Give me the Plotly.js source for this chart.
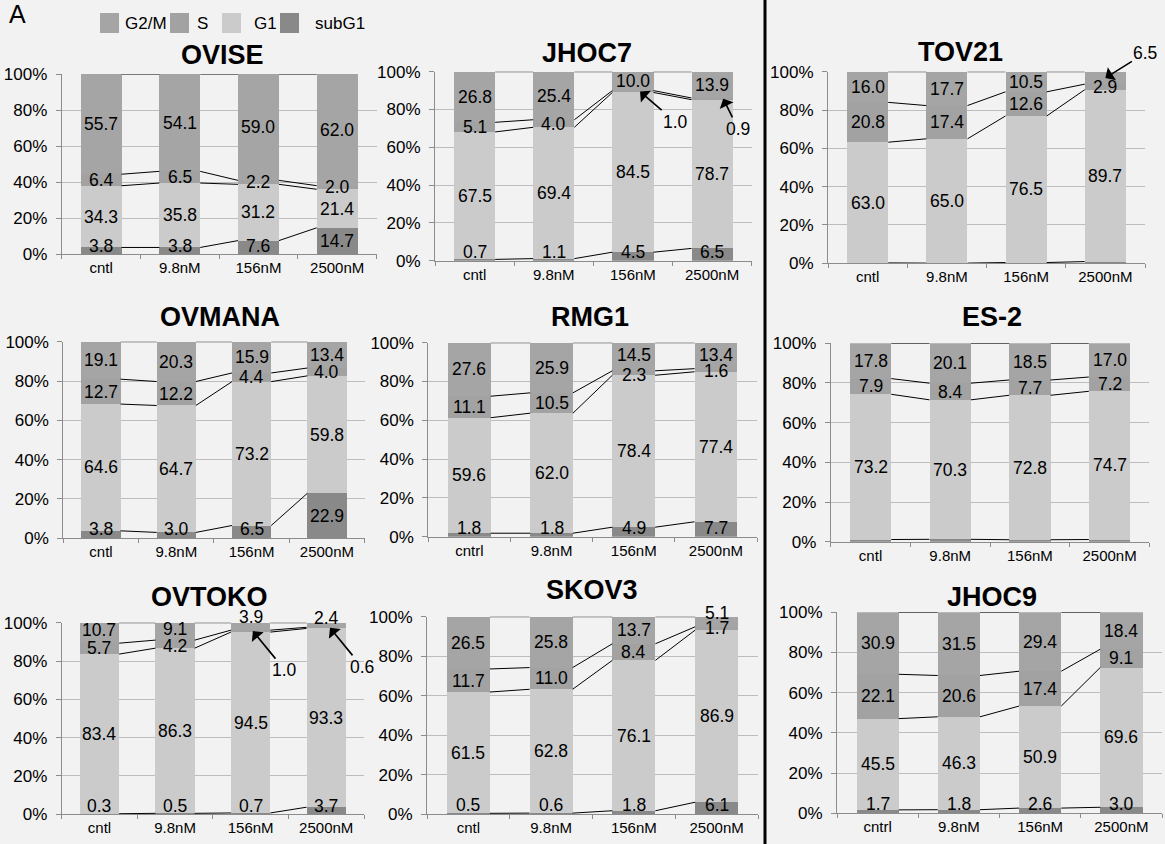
<!DOCTYPE html>
<html><head><meta charset="utf-8">
<script src="https://cdn.plot.ly/plotly-3.0.1.min.js"></script>
<style>html,body{margin:0;padding:0;background:#f2f2f2}</style>
</head><body><div id="chart" style="width:1165px;height:844px"></div>
<script>
// ---------- data ----------
const doses = ['cntl', '9.8nM', '156nM', '2500nM'];
const dosesR = ['cntrl', '9.8nM', '156nM', '2500nM'];
const phases = ['subG1', 'G1', 'S', 'G2/M'];
const yTickVals = [0, 20, 40, 60, 80, 100];
const yTickText = ['0%', '20%', '40%', '60%', '80%', '100%'];

const ovise_subG1 = [3.8, 3.8, 7.6, 14.7];
const ovise_G1 = [34.3, 35.8, 31.2, 21.4];
const ovise_S = [6.4, 6.5, 2.2, 2.0];
const ovise_G2M = [55.7, 54.1, 59.0, 62.0];

const jhoc7_subG1 = [0.7, 1.1, 4.5, 6.5];
const jhoc7_G1 = [67.5, 69.4, 84.5, 78.7];
const jhoc7_S = [5.1, 4.0, 1.0, 0.9];
const jhoc7_G2M = [26.8, 25.4, 10.0, 13.9];

const tov21_subG1 = [0.2, 0.1, 0.4, 0.9];
const tov21_G1 = [63.0, 65.0, 76.5, 89.7];
const tov21_S = [20.8, 17.4, 12.6, 2.9];
const tov21_G2M = [16.0, 17.7, 10.5, 6.5];

const ovmana_subG1 = [3.8, 3.0, 6.5, 22.9];
const ovmana_G1 = [64.6, 64.7, 73.2, 59.8];
const ovmana_S = [12.7, 12.2, 4.4, 4.0];
const ovmana_G2M = [19.1, 20.3, 15.9, 13.4];

const rmg1_subG1 = [1.8, 1.8, 4.9, 7.7];
const rmg1_G1 = [59.6, 62.0, 78.4, 77.4];
const rmg1_S = [11.1, 10.5, 2.3, 1.6];
const rmg1_G2M = [27.6, 25.9, 14.5, 13.4];

const es2_subG1 = [1.1, 1.2, 1.0, 1.1];
const es2_G1 = [73.2, 70.3, 72.8, 74.7];
const es2_S = [7.9, 8.4, 7.7, 7.2];
const es2_G2M = [17.8, 20.1, 18.5, 17.0];

const ovtoko_subG1 = [0.3, 0.5, 0.7, 3.7];
const ovtoko_G1 = [83.4, 86.3, 94.5, 93.3];
const ovtoko_S = [5.7, 4.2, 1.0, 0.6];
const ovtoko_G2M = [10.7, 9.1, 3.9, 2.4];

const skov3_subG1 = [0.5, 0.6, 1.8, 6.1];
const skov3_G1 = [61.5, 62.8, 76.1, 86.9];
const skov3_S = [11.7, 11.0, 8.4, 1.7];
const skov3_G2M = [26.5, 25.8, 13.7, 5.1];

const jhoc9_subG1 = [1.7, 1.8, 2.6, 3.0];
const jhoc9_G1 = [45.5, 46.3, 50.9, 69.6];
const jhoc9_S = [22.1, 20.6, 17.4, 9.1];
const jhoc9_G2M = [30.9, 31.5, 29.4, 18.4];

const charts = [
  {name: 'OVISE', cats: doses, v: [ovise_subG1, ovise_G1, ovise_S, ovise_G2M]},
  {name: 'JHOC7', cats: doses, v: [jhoc7_subG1, jhoc7_G1, jhoc7_S, jhoc7_G2M]},
  {name: 'TOV21', cats: doses, v: [tov21_subG1, tov21_G1, tov21_S, tov21_G2M], noSubLabel: true},
  {name: 'OVMANA', cats: doses, v: [ovmana_subG1, ovmana_G1, ovmana_S, ovmana_G2M]},
  {name: 'RMG1', cats: dosesR, v: [rmg1_subG1, rmg1_G1, rmg1_S, rmg1_G2M]},
  {name: 'ES-2', cats: doses, v: [es2_subG1, es2_G1, es2_S, es2_G2M], noSubLabel: true},
  {name: 'OVTOKO', cats: doses, v: [ovtoko_subG1, ovtoko_G1, ovtoko_S, ovtoko_G2M]},
  {name: 'SKOV3', cats: doses, v: [skov3_subG1, skov3_G1, skov3_S, skov3_G2M]},
  {name: 'JHOC9', cats: dosesR, v: [jhoc9_subG1, jhoc9_G1, jhoc9_S, jhoc9_G2M]}
];

// ---------- layout config (pixels) ----------
const W = 1165, H = 844;
const FONT = 'Liberation Sans, Arial, Helvetica, sans-serif';
const colors = {'subG1': '#898989', 'G1': '#cbcbcb', 'S': '#a2a2a2', 'G2/M': '#a5a5a5'};
// [left, right, top(100%), bottom(0%)]
const boxes = [
  [61.7, 376.5, 74, 254.3], [435, 751.7, 71.7, 260.7], [828, 1145, 71.7, 263.3],
  [63.3, 364.6, 341.7, 538.3], [428.3, 757, 342.7, 536.7], [830.7, 1149.4, 343.3, 541.7],
  [61.7, 364, 622.7, 814.3], [427, 758, 616.7, 814.3], [837, 1162, 612.3, 813.3]
];
const titlePos = [[222, 55], [587, 53], [961, 52], [220, 317], [590, 317], [992, 317], [209, 597], [592, 590], [992, 597]];
const arrowLabels = [
  {chart: 'JHOC7', phase: 2, idx: 2, dx: 0.09, ax: 35, ay: 30},
  {chart: 'JHOC7', phase: 2, idx: 3, dx: 0.14, ax: 15, ay: 30},
  {chart: 'TOV21', phase: 3, idx: 3, dx: 0.0, ax: 40, ay: -25},
  {chart: 'OVTOKO', phase: 2, idx: 2, dx: 0.03, ax: 32, ay: 39},
  {chart: 'OVTOKO', phase: 2, idx: 3, dx: 0.05, ax: 32, ay: 39}
];
const labelShifts = [
  {chart: 'SKOV3', phase: 3, idx: 3, yshift: 12},
  {chart: 'OVTOKO', phase: 3, idx: 2, yshift: 13},
  {chart: 'OVTOKO', phase: 3, idx: 3, yshift: 12},
  {chart: 'OVTOKO', phase: 3, idx: 0, yshift: 3},
  {chart: 'OVTOKO', phase: 2, idx: 0, yshift: 1},
  {chart: 'OVTOKO', phase: 3, idx: 1, yshift: 2},
  {chart: 'OVTOKO', phase: 2, idx: 1, yshift: -2},
  {chart: 'RMG1', phase: 3, idx: 2, yshift: 2},
  {chart: 'RMG1', phase: 2, idx: 2, yshift: -2},
  {chart: 'RMG1', phase: 3, idx: 3, yshift: 1},
  {chart: 'RMG1', phase: 2, idx: 3, yshift: -1}
];
const bargap = 0.48;
const barW = 1 - bargap;
const LABEL_SIZE = 17.5;

const traces = [];
const annotations = [];
const shapes = [];
const layout = {
  width: W, height: H, margin: {l: 0, r: 0, t: 0, b: 0},
  paper_bgcolor: '#f2f2f2', plot_bgcolor: 'rgba(0,0,0,0)',
  barmode: 'stack', barnorm: 'percent', bargap: bargap,
  showlegend: false, font: {family: FONT, color: '#000'},
  annotations: annotations, shapes: shapes
};

charts.forEach((c, k) => {
  const n = k + 1;
  const sfx = n === 1 ? '' : String(n);
  const xa = 'x' + sfx, ya = 'y' + sfx;
  const b = boxes[k];
  layout['xaxis' + sfx] = {
    domain: [b[0] / W, b[1] / W], range: [-0.5, 3.5], anchor: ya,
    tickmode: 'array', tickvals: [0, 1, 2, 3], ticktext: c.cats, ticks: '',
    ticklabelstandoff: 0,
    showline: true, linecolor: '#8c8c8c', linewidth: 1, showgrid: false, zeroline: false,
    tickfont: {size: 15, family: FONT},
    minor: {tickmode: 'linear', tick0: 0.5, dtick: 1, ticks: 'outside', ticklen: 4, tickcolor: '#8c8c8c', showgrid: false},
    fixedrange: true
  };
  layout['yaxis' + sfx] = {
    domain: [1 - b[3] / H, 1 - b[2] / H], range: [0, 100], anchor: xa,
    tickmode: 'array', tickvals: yTickVals, ticktext: yTickText,
    ticks: 'outside', ticklen: 5, tickcolor: '#8c8c8c', ticklabelstandoff: 5,
    showline: true, linecolor: '#8c8c8c', linewidth: 1,
    showgrid: true, gridcolor: '#bdbdbd', gridwidth: 1, zeroline: false,
    tickfont: {size: 17, family: FONT}, fixedrange: true
  };
  const xs = c.cats.map((_, i) => i);
  phases.forEach((p, pi) => {
    traces.push({
      type: 'bar', x: xs, y: c.v[pi], xaxis: xa, yaxis: ya, name: p,
      marker: {color: colors[p], line: {width: 0}}, hoverinfo: 'skip', showlegend: false
    });
  });
  // normalized cumulative values
  const sums = xs.map(i => c.v.reduce((s, arr) => s + arr[i], 0));
  const cum = [];
  phases.forEach((p, pi) => {
    cum.push(xs.map(i => {
      let s = 0;
      for (let q = 0; q <= pi; q++) s += c.v[q][i];
      return s / sums[i] * 100;
    }));
  });
  // series lines
  const lx = [], ly = [];
  phases.forEach((p, pi) => {
    for (let i = 0; i < xs.length - 1; i++) {
      lx.push(i + barW / 2, i + 1 - barW / 2, null);
      ly.push(cum[pi][i], cum[pi][i + 1], null);
    }
  });
  traces.push({type: 'scatter', mode: 'lines', x: lx, y: ly, xaxis: xa, yaxis: ya,
    line: {color: '#000', width: 1}, hoverinfo: 'skip', showlegend: false, cliponaxis: false});
  // labels
  phases.forEach((p, pi) => {
    if (pi === 0 && c.noSubLabel) return;
    xs.forEach(i => {
      const val = c.v[pi][i];
      const lo = pi === 0 ? 0 : cum[pi - 1][i];
      const center = (lo + cum[pi][i]) / 2;
      const arrow = arrowLabels.find(a => a.chart === c.name && a.phase === pi && a.idx === i);
      if (arrow) {
        annotations.push({
          xref: xa, yref: ya, x: i + arrow.dx, y: center, text: val.toFixed(1),
          showarrow: true, ax: arrow.ax, ay: arrow.ay, arrowhead: 1, arrowsize: 1.6,
          arrowwidth: 1.6, arrowcolor: '#000', standoff: 0,
          font: {size: LABEL_SIZE, family: FONT, color: '#000'}
        });
        return;
      }
      const sh = labelShifts.find(a => a.chart === c.name && a.phase === pi && a.idx === i);
      annotations.push({
        xref: xa, yref: ya, x: i, y: Math.min(96, Math.max(4.5, center)),
        text: val.toFixed(1), showarrow: false, yshift: sh ? sh.yshift : 0,
        font: {size: LABEL_SIZE, family: FONT, color: '#000'}
      });
    });
  });
  // title
  annotations.push({
    xref: 'paper', yref: 'paper', x: titlePos[k][0] / W, y: 1 - titlePos[k][1] / H,
    xanchor: 'center', yanchor: 'middle', showarrow: false,
    text: '<b>' + c.name + '</b>', font: {size: 27, family: FONT, color: '#000'}
  });
});

// panel letter
annotations.push({xref: 'paper', yref: 'paper', x: 7 / W, y: 1 - 14 / H, xanchor: 'left', yanchor: 'middle',
  showarrow: false, text: 'A', font: {size: 25, family: FONT, color: '#000'}});

// legend (manual)
const legendItems = ['G2/M', 'S', 'G1', 'subG1'];
const legendSquares = [100, 170, 222, 280];
const legendTexts = [123, 195, 252, 313];
legendItems.forEach((p, i) => {
  shapes.push({type: 'rect', xref: 'paper', yref: 'paper',
    x0: legendSquares[i] / W, x1: (legendSquares[i] + 19) / W, y0: 1 - 33 / H, y1: 1 - 13 / H,
    fillcolor: colors[p], line: {width: 0}});
  annotations.push({xref: 'paper', yref: 'paper', x: legendTexts[i] / W, y: 1 - 23 / H,
    xanchor: 'left', yanchor: 'middle', showarrow: false, text: p,
    font: {size: 17, family: FONT, color: '#000'}});
});

// separator line
shapes.push({type: 'line', xref: 'paper', yref: 'paper', x0: 765 / W, x1: 765 / W, y0: 0, y1: 1,
  line: {color: '#000', width: 3}});

Plotly.newPlot('chart', traces, layout, {staticPlot: true, displayModeBar: false});
</script>
</body></html>
